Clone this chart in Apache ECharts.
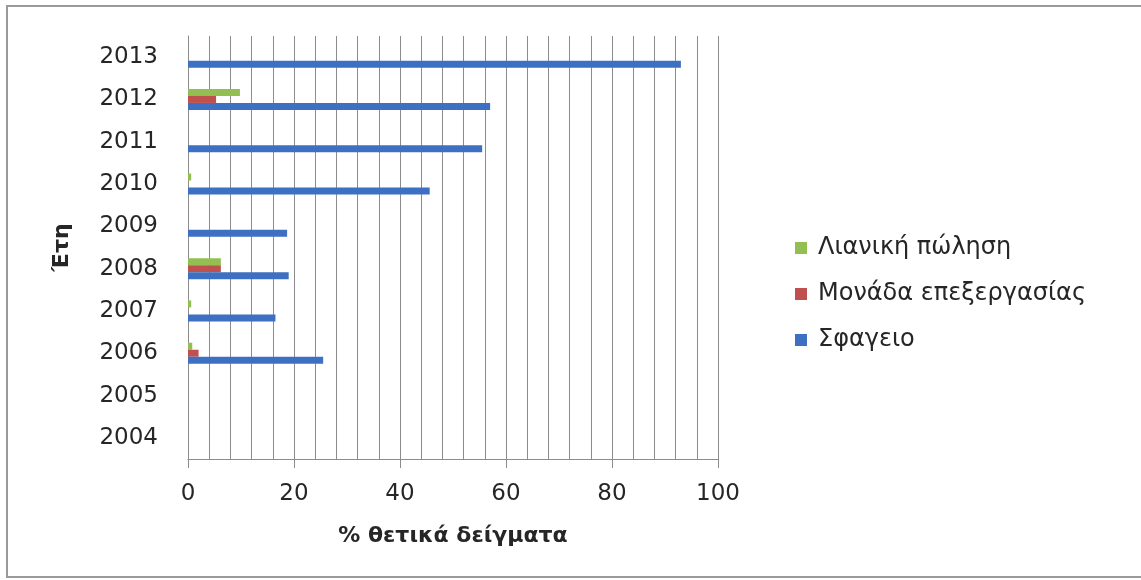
<!DOCTYPE html>
<html>
<head>
<meta charset="utf-8">
<script src="https://cdn.jsdelivr.net/npm/echarts@6/dist/echarts.min.js"></script>
<style>
  html, body { margin: 0; padding: 0; background: #fff; }
  #chart { width: 1141px; height: 580px; }
</style>
</head>
<body>
<div id="chart"></div>
<script>
// Years on the category axis (bottom to top)
const years = ['2004', '2005', '2006', '2007', '2008', '2009', '2010', '2011', '2012', '2013'];

// Percentage of positive samples per stage
const slaughterhouse = [0, 0, 25.5, 16.5, 19, 18.7, 45.6, 55.5, 57, 93];
const processingUnit = [0, 0, 2, 0, 6.2, 0, 0, 0, 5.3, 0];
const retail = [0, 0, 0.8, 0.6, 6.2, 0, 0.6, 0, 9.8, 0];

const nameRetail = 'Λιανική πώληση';
const nameProcessing = 'Μονάδα επεξεργασίας';
const nameSlaughter = 'Σφαγειο';
const legendOrder = [nameRetail, nameProcessing, nameSlaughter];

const xTitle = '% θετικά δείγματα';
const yTitle = 'Έτη';

const font = 'DejaVu Sans';
const textColor = '#262626';
const gridColor = '#8c8c8c';

const chart = echarts.init(document.getElementById('chart'));

const barSeries = (name, data, color) => ({
  type: 'bar',
  name: name,
  data: data,
  barWidth: 7,
  barGap: '0%',
  itemStyle: { color: color },
  emphasis: { disabled: true }
});

chart.setOption({
  animation: false,
  backgroundColor: '#fff',
  graphic: [{
    type: 'rect',
    shape: { x: 7, y: 6, width: 1150, height: 571 },
    style: { fill: 'none', stroke: '#9a9a9a', lineWidth: 2 },
    silent: true
  }],
  legend: {
    orient: 'vertical',
    left: 790,
    top: 231,
    itemWidth: 12,
    itemHeight: 12,
    itemGap: 22,
    icon: 'rect',
    data: legendOrder,
    textStyle: { fontFamily: font, fontSize: 24, color: textColor, padding: [0, 0, 0, 6] }
  },
  grid: { left: 188, right: 423, top: 36, bottom: 121, containLabel: false },
  xAxis: [{
    type: 'value',
    min: 0,
    max: 100,
    interval: 20,
    name: xTitle,
    nameLocation: 'middle',
    nameGap: 66,
    nameTextStyle: { fontFamily: font, fontSize: 22, fontWeight: 'bold', color: textColor },
    axisLine: { show: true, lineStyle: { color: gridColor, width: 1 } },
    axisTick: { show: true, length: 9, lineStyle: { color: gridColor } },
    axisLabel: { fontFamily: font, fontSize: 23, color: textColor, margin: 24 },
    splitLine: { show: false }
  }, {
    type: 'value',
    min: 0,
    max: 100,
    interval: 4,
    position: 'bottom',
    axisLine: { show: false },
    axisTick: { show: false },
    axisLabel: { show: false },
    splitLine: { show: true, lineStyle: { color: gridColor, width: 1 } }
  }],
  yAxis: {
    type: 'category',
    data: years,
    name: yTitle,
    nameLocation: 'middle',
    nameGap: 115,
    nameRotate: 90,
    nameTextStyle: { fontFamily: font, fontSize: 22, fontWeight: 'bold', color: textColor, padding: [0, 0, 0, 0] },
    axisLine: { show: true, lineStyle: { color: gridColor, width: 1 } },
    axisTick: { show: false },
    axisLabel: { fontFamily: font, fontSize: 23, color: textColor, margin: 30 },
    splitLine: { show: false }
  },
  series: [
    barSeries(nameRetail, retail, '#93bf52'),
    barSeries(nameProcessing, processingUnit, '#c0504d'),
    barSeries(nameSlaughter, slaughterhouse, '#3d6fc2')
  ]
});
</script>
</body>
</html>
